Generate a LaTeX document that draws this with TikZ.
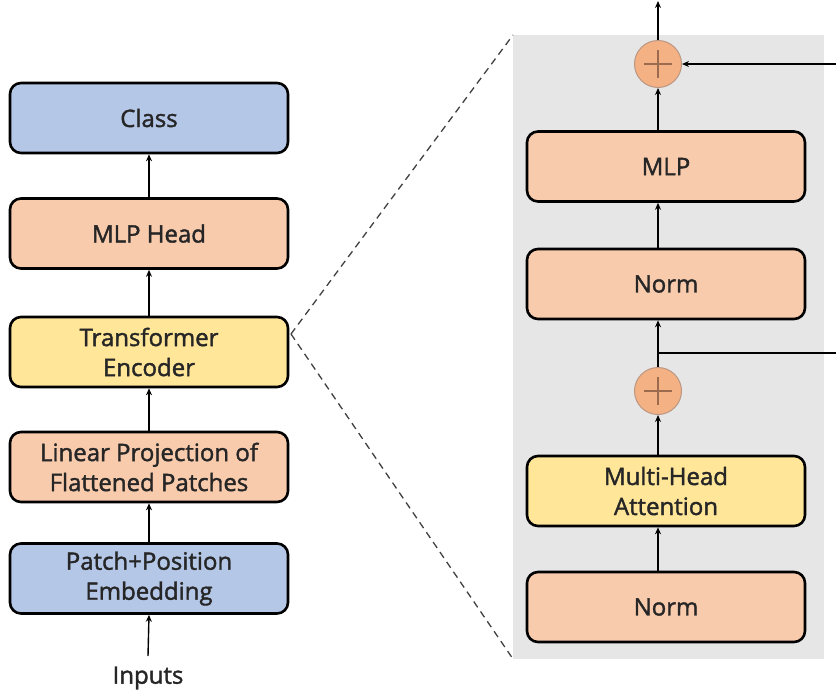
\documentclass[tikz,border=0pt]{standalone}
\usepackage{fontspec}
\setmainfont{Open Sans}
\newfontfamily\medfont{Open Sans}[FakeBold=1.6]
\usetikzlibrary{arrows.meta}
\definecolor{cblue}{HTML}{B4C7E7}
\definecolor{corange}{HTML}{F8CBAD}
\definecolor{cyellow}{HTML}{FFE699}
\definecolor{cpanel}{HTML}{E7E6E6}
\definecolor{cplus}{HTML}{F4B183}
\definecolor{cplusline}{HTML}{9C6B4E}
\definecolor{ctext}{HTML}{262626}
\tikzset{
  blk/.style={draw=black, line width=2.6pt, rounded corners=11pt, minimum width=278pt, minimum height=70pt, align=center, text=ctext, font=\medfont\fontsize{24}{30}\selectfont, inner sep=0pt},
  bluebox/.style={blk, fill=cblue},
  orangebox/.style={blk, fill=corange},
  yellowbox/.style={blk, fill=cyellow},
  arr/.style={-{Stealth[length=7pt,width=6pt]}, line width=1.4pt},
  plainline/.style={line width=1.4pt},
  plusnode/.style={circle, draw=cplusline!70, line width=1pt, fill=cplus, minimum size=47pt, inner sep=0pt},
  dashln/.style={dashed, dash pattern=on 7pt off 5pt, line width=1.3pt, draw=black!75}
}
\begin{document}
\begin{tikzpicture}[x=1pt,y=-1pt]
\useasboundingbox (0,0) rectangle (836,696);
% panel
\fill[cpanel] (513,35) rectangle (824,659);
% left column
\node[bluebox] (cls) at (149,118) {Class};
\node[orangebox] (head) at (149,233.5) {MLP Head};
\node[yellowbox] (te) at (149,352) {Transformer\\Encoder};
\node[orangebox] (lin) at (149,467) {Linear Projection of\\Flattened Patches};
\node[bluebox] (emb) at (149,578.5) {Patch+Position\\Embedding};
\node[text=ctext, font=\medfont\fontsize{24}{30}\selectfont, inner sep=0pt] (inp) at (148,678) {Inputs};
\coordinate (inptop) at (148,656);
\draw[arr] (inptop) -- (emb.south);
\draw[arr] (emb.north) -- (lin.south);
\draw[arr] (lin.north) -- (te.south);
\draw[arr] (te.north) -- (head.south);
\draw[arr] (head.north) -- (cls.south);
% dashed zoom lines
\coordinate (zp) at (291,334);
\coordinate (ptl) at (513,35);
\coordinate (pbl) at (513,659);
\draw[dashln] (zp) -- (ptl);
\draw[dashln] (zp) -- (pbl);
% right column
\node[orangebox] (mlp) at (666,166.5) {MLP};
\node[orangebox] (norm2) at (666,284) {Norm};
\node[yellowbox] (mha) at (666,491) {Multi-Head\\Attention};
\node[orangebox] (norm1) at (666,607) {Norm};
\node[plusnode] (p1) at (658,64) {};
\node[plusnode] (p2) at (658,391) {};
\foreach \p in {p1,p2}{
  \draw[cplusline, line width=1.4pt] ([xshift=-14pt]\p.center) -- ([xshift=14pt]\p.center);
  \draw[cplusline, line width=1.4pt] ([yshift=-14pt]\p.center) -- ([yshift=14pt]\p.center);
}
\coordinate (top) at (658,1);
\coordinate (j1) at (658,353);
\coordinate (r1) at (837,64);
\coordinate (r2) at (837,353);
\draw[arr] (p1.north) -- (top);
\draw[arr] (r1) -- (p1.east);
\draw[arr] (mlp.north -| p1) -- (p1.south);
\draw[arr] (norm2.north -| p1) -- (mlp.south -| p1);
\draw[plainline] (p2.north) -- (j1);
\draw[arr] (j1) -- (norm2.south -| p1);
\draw[plainline] (j1) -- (r2);
\draw[arr] (mha.north -| p2) -- (p2.south);
\draw[arr] (norm1.north -| p2) -- (mha.south -| p2);
\end{tikzpicture}
\end{document}
